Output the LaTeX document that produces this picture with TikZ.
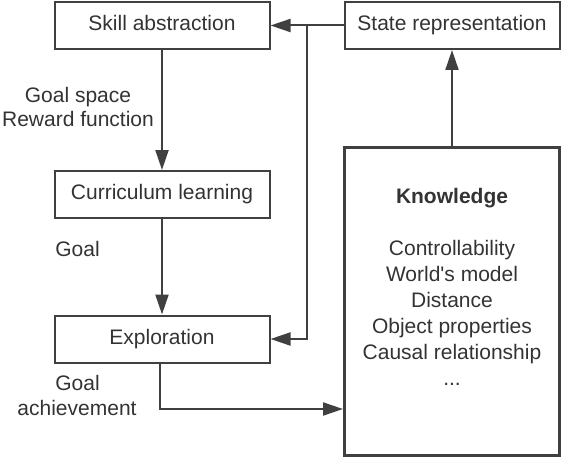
\documentclass[tikz,border=0pt]{standalone}
\usepackage{fontspec}
\setmainfont{Liberation Sans}
\usetikzlibrary{arrows.meta}
\definecolor{ln}{HTML}{404040}
\definecolor{tx}{HTML}{333333}
\begin{document}
\begin{tikzpicture}[x=1pt,y=-1pt,
  txt/.style={text=tx, font=\fontsize{21}{25}\selectfont},
  box/.style={txt, draw=ln, line width=2pt, minimum width=215pt, minimum height=47pt, inner sep=0pt, text height=15pt, text depth=4.5pt},
  conn/.style={draw=ln, line width=2pt},
  arr/.style={conn, -{Triangle[length=20pt,width=13pt]}},
  lbl/.style={txt, inner sep=0pt, anchor=base}]
\useasboundingbox (0,0) rectangle (562,460);
\node[box] (skill) at (162,25.5) {Skill abstraction};
\node[box] (state) at (452,25.5) {State representation};
\node[box] (curr) at (162,194.5) {Curriculum learning};
\node[box] (explo) at (162,339) {Exploration};
\node[draw=ln, line width=3pt, minimum width=215pt, minimum height=308pt, inner sep=0pt] (know) at (452,301.5) {};
% knowledge text
\node[lbl] (k0) at (452,203.5) {\textbf{Knowledge}};
\node[lbl] (k1) at (452,255.5) {Controllability};
\node[lbl] (k2) at (452,281.5) {World\textquotesingle s model};
\node[lbl] (k3) at (452,307.5) {Distance};
\node[lbl] (k4) at (452,333.5) {Object properties};
\node[lbl] (k5) at (452,359.5) {Causal relationship};
\node[lbl] (k6) at (452,385.5) {...};
% side labels
\node[lbl] (gs) at (78,102.5) {Goal space};
\node[lbl] (rf) at (78,126.5) {Reward function};
\node[lbl] (g1) at (77.5,256.5) {Goal};
\node[lbl] (g2) at (77.5,390.5) {Goal};
\node[lbl] (ach) at (77,415) {achievement};
% connectors
\coordinate (j1) at (307,25.5);
\coordinate (j2) at (307,339);
\coordinate (j3) at (159.5,409);
\draw[arr] (state.west) -- (skill.east);
\draw[arr] (j1) -- (j2) -- (explo.east);
\draw[arr] (skill.south) -- (curr.north);
\draw[arr] (curr.south) -- (explo.north);
\draw[arr] ([xshift=-2.5pt]explo.south) -- (j3) -- (know.west |- j3);
\draw[arr] (know.north) -- (state.south);
\end{tikzpicture}
\end{document}
